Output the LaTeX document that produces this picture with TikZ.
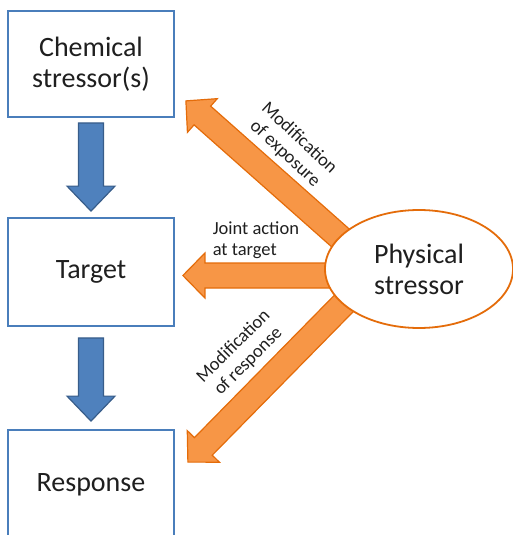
\documentclass[tikz,border=0pt]{standalone}
\usepackage{fontspec}
\setmainfont{Carlito}
\usetikzlibrary{%
  calc,%
  shapes,% wg. ellipse
  backgrounds,%
  positioning% wg. " of "
}
\definecolor{boxblue}{RGB}{74,126,187}
\definecolor{arrowblue}{RGB}{79,129,189}
\definecolor{arrowblueline}{RGB}{56,93,138}
\definecolor{physorange}{RGB}{247,150,70}
\definecolor{physline}{RGB}{228,108,10}

\begin{document}
\begin{tikzpicture}
  [
  x=1pt, y=-1pt,
  line width=1.5pt,
  font=\fontsize{28}{31}\selectfont,
  text=black!88,
  stressbox/.style={rectangle, draw=boxblue, fill=white, line width=1.8pt, minimum width=166pt, inner sep=0pt, align=center},
  shaft half/.store in=\shafthalf,
  head half/.store in=\headhalf,
  head len/.store in=\headlen,
  fatarrow/.style={line width=1.2pt, to path={
      ($(\tikztotarget)!\headlen!(\tikztostart)$) coordinate (fatbase)
      ($(\tikztostart)!\shafthalf!90:(\tikztotarget)$)
      -- ($(fatbase)!\shafthalf!-90:(\tikztostart)$)
      -- ($(fatbase)!\headhalf!-90:(\tikztostart)$)
      -- (\tikztotarget)
      -- ($(fatbase)!\headhalf!90:(\tikztostart)$)
      -- ($(fatbase)!\shafthalf!90:(\tikztostart)$)
      -- ($(\tikztostart)!\shafthalf!-90:(\tikztotarget)$)
      -- cycle}},
  bluearrow/.style={fatarrow, draw=arrowblueline, fill=arrowblue, shaft half=12.5pt, head half=24pt, head len=25pt},
  orangearrow/.style={fatarrow, draw=physline, fill=physorange, shaft half=12.5pt, head half=22.5pt, head len=22pt},
  arrowlabel/.style={inner sep=0pt, font=\fontsize{18.5}{21}\selectfont, align=center},
  ]
  \useasboundingbox (0,0) rectangle (513,535);

  \node[stressbox, minimum height=106pt] (chem) at (91,64) {Chemical\\stressor(s)};
  \node[stressbox, minimum height=108pt] (target) at (91,272) {Target};
  \node[stressbox, minimum height=110pt] (response) at (91,485) {Response};

  \node[ellipse, draw=physline, fill=white, line width=1.8pt, minimum width=188pt, minimum height=118pt, inner sep=0pt, align=center] (phys) at (419,269) {Physical\\stressor};

  \coordinate (exptip) at ($(chem.south east)+(11,-17)$);
  \coordinate (jointtip) at ($(target.east)+(8,3.5)$);
  \coordinate (resptip) at ($(response.north east)+(13,33)$);

  \begin{scope}[on background layer]
    \draw[bluearrow] ($(chem.south)+(0,5)$) to ($(target.north)+(0,-6)$);
    \draw[bluearrow] ($(target.south)+(0,11)$) to ($(response.north)+(0,-8)$);
    \draw[orangearrow] ($(exptip)!1.12!(phys.158)$) to (exptip);
    \draw[orangearrow] (phys.center |- jointtip) to (jointtip);
    \draw[orangearrow] ($(resptip)!1.12!(phys.205)$) to (resptip);
  \end{scope}

  \node[arrowlabel, rotate=-43] (explbl) at (292,146) {Modification\\of exposure};
  \node[arrowlabel, align=left, anchor=west] (jointlbl) at (212,240) {Joint action\\at target};
  \node[arrowlabel, rotate=45] (resplbl) at (241,354) {Modification\\of response};
\end{tikzpicture}
\end{document}
